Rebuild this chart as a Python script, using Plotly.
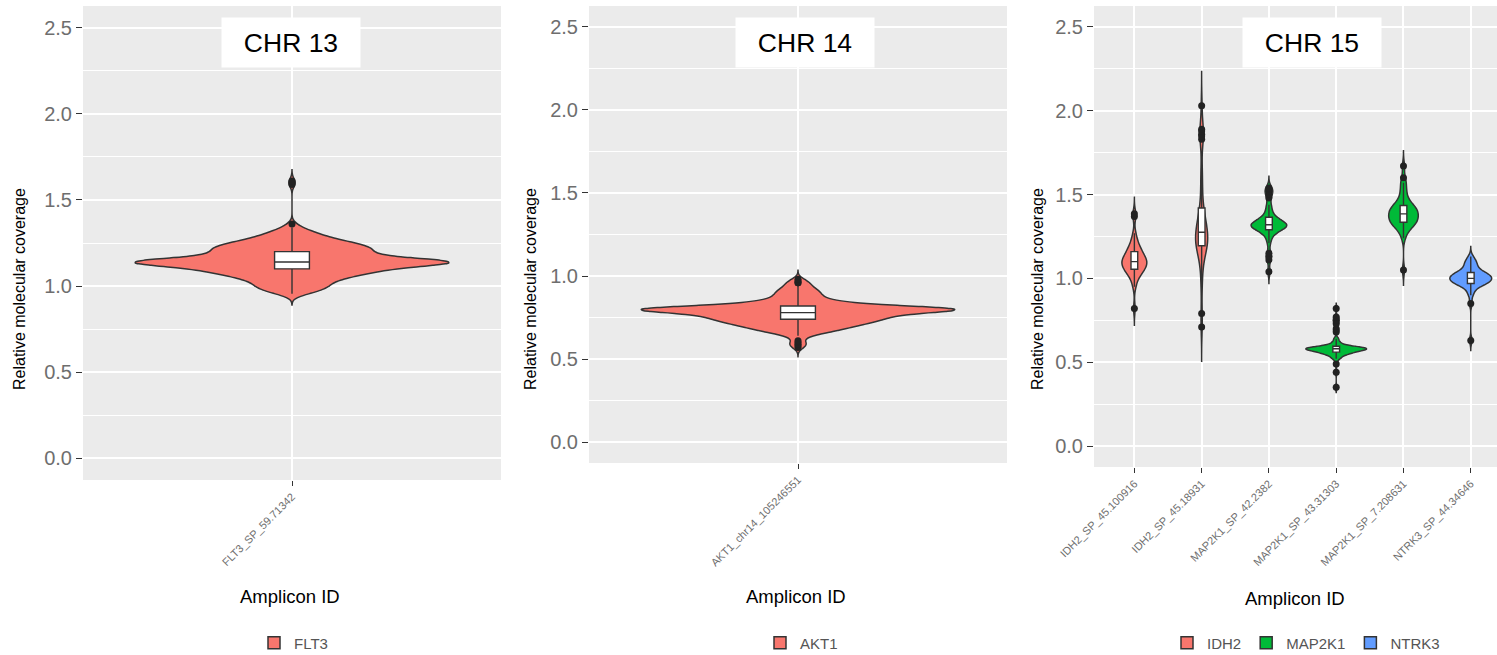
import numpy as np
import plotly.graph_objects as go

W, H = 1497, 655

# ---------------- data ----------------
# CHR 13 panel (values observed with their multiplicities)
flt3_label = "FLT3_SP_59.71342"
flt3_values = [0.955, 0.97, 0.98, 1.00, 1.02, 1.04, 1.06, 1.08, 1.10, 1.12, 1.14, 1.16,
               1.18, 1.20, 1.22, 1.24, 1.26, 1.28, 1.30, 1.32, 1.34, 1.36, 1.59, 1.61]
flt3_counts = [3, 3, 6, 8, 8, 10, 13, 18, 20, 24, 52, 20,
               16, 17, 17, 16, 11, 8, 6, 4, 2, 1, 1, 1]

# CHR 14 panel
akt1_label = "AKT1_chr14_105246551"
akt1_values = [0.57, 0.58, 0.59, 0.60, 0.61, 0.64, 0.66, 0.68, 0.70, 0.72, 0.74, 0.76,
               0.78, 0.80, 0.82, 0.84, 0.86, 0.88, 0.90, 0.92, 0.94, 0.96, 0.97, 0.98]
akt1_counts = [1, 1, 1, 1, 1, 3, 6, 10, 12, 16, 18, 20,
               22, 50, 18, 10, 6, 5, 5, 4, 3, 2, 1, 1]

# CHR 15 panel
chr15_labels = ["IDH2_SP_45.100916", "IDH2_SP_45.18931", "MAP2K1_SP_42.2382",
                "MAP2K1_SP_43.31303", "MAP2K1_SP_7.208631", "NTRK3_SP_44.34646"]
chr15_genes = ["IDH2", "IDH2", "MAP2K1", "MAP2K1", "MAP2K1", "NTRK3"]
idh2_45100916 = [0.82, 0.95, 0.98, 1.00, 1.02, 1.03, 1.04, 1.04, 1.05, 1.04, 1.06, 1.07,
                 1.08, 1.08, 1.08, 1.09, 1.09, 1.10, 1.10, 1.10, 1.11, 1.11, 1.12, 1.12,
                 1.13, 1.13, 1.14, 1.15, 1.16, 1.16, 1.17, 1.18, 1.19, 1.20, 1.22, 1.24,
                 1.27, 1.37, 1.385, 1.06]
idh2_4518931 = [0.71, 0.79, 0.95, 1.04, 1.09, 1.12, 1.15, 1.17, 1.18, 1.19, 1.20, 1.20,
                1.21, 1.21, 1.22, 1.23, 1.24, 1.25, 1.26, 1.27, 1.28, 1.29, 1.30, 1.31,
                1.32, 1.33, 1.35, 1.37, 1.39, 1.40, 1.44, 1.52, 1.58, 1.66, 1.83, 1.85,
                1.86, 1.88, 1.89, 2.03]
map2k1_422382 = [1.04, 1.11, 1.13, 1.15, 1.21, 1.24, 1.26, 1.27, 1.28, 1.29, 1.29, 1.30,
                 1.30, 1.30, 1.31, 1.31, 1.31, 1.31, 1.32, 1.32, 1.32, 1.32, 1.33, 1.33,
                 1.33, 1.34, 1.34, 1.35, 1.35, 1.36, 1.37, 1.38, 1.40, 1.42, 1.44, 1.48,
                 1.50, 1.52, 1.53, 1.54]
map2k1_4331303 = [0.35, 0.44, 0.49, 0.52, 0.53, 0.54, 0.55, 0.55, 0.55, 0.56, 0.56, 0.56,
                  0.57, 0.57, 0.57, 0.57, 0.57, 0.58, 0.58, 0.58, 0.58, 0.58, 0.58, 0.58,
                  0.59, 0.59, 0.59, 0.59, 0.59, 0.59, 0.60, 0.61, 0.62, 0.64, 0.68, 0.70,
                  0.73, 0.75, 0.77, 0.82]
map2k1_7208631 = [1.05, 1.24, 1.27, 1.29, 1.30, 1.31, 1.32, 1.32, 1.33, 1.33, 1.34, 1.34,
                  1.35, 1.35, 1.36, 1.36, 1.37, 1.37, 1.38, 1.38, 1.39, 1.39, 1.40, 1.40,
                  1.41, 1.41, 1.42, 1.42, 1.43, 1.43, 1.44, 1.45, 1.46, 1.48, 1.50, 1.52,
                  1.55, 1.57, 1.60, 1.67]
ntrk3_4434646 = [0.63, 0.85, 0.90, 0.92, 0.94, 0.95, 0.96, 0.96, 0.97, 0.97, 0.97, 0.98,
                 0.98, 0.98, 0.99, 0.99, 0.99, 1.00, 1.00, 1.00, 1.00, 1.01, 1.01, 1.01,
                 1.02, 1.02, 1.02, 1.03, 1.03, 1.03, 1.04, 1.04, 1.05, 1.06, 1.07, 1.08,
                 1.09, 1.10, 1.11, 1.13]
chr15_samples = [idh2_45100916, idh2_4518931, map2k1_422382,
                 map2k1_4331303, map2k1_7208631, ntrk3_4434646]

y_ticks = [0.0, 0.5, 1.0, 1.5, 2.0, 2.5]

# ---------------- style ----------------
gene_colors = {"FLT3": "#F8766D", "AKT1": "#F8766D", "IDH2": "#F8766D",
               "MAP2K1": "#00BA38", "NTRK3": "#619CFF"}
chr15_widths = [0.37, 0.18, 0.53, 0.90, 0.44, 0.62]
FONT = "Liberation Sans, Arial, Helvetica, sans-serif"
OUT = "#333333"
TICKCOL = "#6E6E6E"


def px_x(p):
    return p / W


def px_y(p):
    return 1 - p / H


def bw_nrd0(v):
    # R's default bandwidth rule (as used by ggplot2's geom_violin)
    v = np.asarray(v, dtype=float)
    q75, q25 = np.percentile(v, [75, 25])
    lo = min(v.std(ddof=1), (q75 - q25) / 1.34)
    return 0.9 * lo * len(v) ** -0.2


def make_violin(label, y, gene, xa, ya, width, legend, showlegend, group):
    y = np.asarray(y, dtype=float)
    bw = bw_nrd0(y)
    return go.Violin(
        x=[label] * len(y), y=y, xaxis=xa, yaxis=ya,
        name=gene, legendgroup=legend + gene, showlegend=showlegend, legend=legend,
        fillcolor=gene_colors[gene], line=dict(color=OUT, width=1.5),
        width=width, scalemode="width", scalegroup=group,
        bandwidth=bw, spanmode="manual", span=[y.min() - 3 * bw, y.max() + 3 * bw],
        points="outliers", pointpos=0, jitter=0,
        marker=dict(color="#222222", size=7, line=dict(width=0)),
        box=dict(visible=True, width=0.1 / width, fillcolor="white",
                 line=dict(color=OUT, width=1.4)),
        meanline=dict(visible=False), hoverinfo="skip", opacity=1,
    )


fig = go.Figure()
fig.add_trace(make_violin(flt3_label, np.repeat(flt3_values, flt3_counts), "FLT3",
                          "x", "y", 0.9, "legend", True, "g1"))
fig.add_trace(make_violin(akt1_label, np.repeat(akt1_values, akt1_counts), "AKT1",
                          "x2", "y2", 0.9, "legend2", True, "g2"))
seen = set()
for i, (lab, gene, ys, w) in enumerate(zip(chr15_labels, chr15_genes, chr15_samples, chr15_widths)):
    fig.add_trace(make_violin(lab, ys, gene, "x3", "y3", w, "legend3",
                              gene not in seen, "g3_%d" % i))
    seen.add(gene)

# panel pixel boxes: (left, right, top, bottom)
panels = [(83, 501, 6, 480), (589, 1007, 6, 463), (1094, 1497, 6, 467)]
x_ranges = [[-0.6, 0.6], [-0.6, 0.6], [-0.6, 5.39]]
cats = [[flt3_label], [akt1_label], chr15_labels]

layout = dict(
    width=W, height=H, margin=dict(l=0, r=0, t=0, b=0, autoexpand=False),
    paper_bgcolor="white", plot_bgcolor="#EBEBEB", violinmode="overlay",
    font=dict(family=FONT, color="#222222"), showlegend=True,
)
for k, ((l, r, t, b), xr, cat) in enumerate(zip(panels, x_ranges, cats)):
    sfx = "" if k == 0 else str(k + 1)
    layout["xaxis" + sfx] = dict(
        domain=[px_x(l), px_x(r)], anchor="y" + sfx, type="category",
        categoryorder="array", categoryarray=cat, range=xr, automargin=False,
        showgrid=True, gridcolor="white", gridwidth=1.6, zeroline=False, showline=False,
        ticks="outside", ticklen=5, tickwidth=1.2, tickcolor=OUT, tickangle=-45,
        tickfont=dict(size=11, color=TICKCOL, family=FONT), fixedrange=True,
    )
    layout["yaxis" + sfx] = dict(
        domain=[px_y(b), px_y(t)], anchor="x" + sfx, range=[-0.125, 2.625],
        automargin=False,
        tickmode="array", tickvals=y_ticks, ticktext=["%.1f" % v for v in y_ticks],
        showgrid=True, gridcolor="white", gridwidth=1.6, zeroline=False, showline=False,
        ticks="outside", ticklen=6, tickwidth=1.2, tickcolor=OUT,
        tickfont=dict(size=20, color=TICKCOL, family=FONT),
        minor=dict(tickvals=[0.25, 0.75, 1.25, 1.75, 2.25], showgrid=True,
                   gridcolor="white", gridwidth=0.8, ticks=""),
        fixedrange=True,
    )

leg_common = dict(orientation="h", xanchor="left", yanchor="middle",
                  y=px_y(643), bgcolor="rgba(0,0,0,0)", borderwidth=0,
                  font=dict(size=15, color="#555555", family=FONT), itemclick=False,
                  itemdoubleclick=False)
layout["legend"] = dict(x=px_x(254), **leg_common)
layout["legend2"] = dict(x=px_x(760), **leg_common)
layout["legend3"] = dict(x=px_x(1167), **leg_common)
fig.update_layout(**layout)

# titles
chr_titles = ["CHR 13", "CHR 14", "CHR 15"]
chr_centers = [291, 804.5, 1312]
for t, cx in zip(chr_titles, chr_centers):
    fig.add_annotation(text=t, x=px_x(cx), y=px_y(42.5), xref="paper", yref="paper",
                       xanchor="center", yanchor="middle", showarrow=False,
                       width=138, height=49, bgcolor="white", borderpad=0,
                       font=dict(size=26.5, color="black", family=FONT))
for cx in [19, 530, 1037]:
    fig.add_annotation(text="Relative molecular coverage", x=px_x(cx), y=px_y(289),
                       xref="paper", yref="paper", xanchor="center", yanchor="middle",
                       textangle=-90, showarrow=False,
                       font=dict(size=16, color="black", family=FONT))
for cx, cy in [(290, 596), (796, 596), (1295, 598)]:
    fig.add_annotation(text="Amplicon ID", x=px_x(cx), y=px_y(cy), xref="paper",
                       yref="paper", xanchor="center", yanchor="middle", showarrow=False,
                       font=dict(size=18.5, color="black", family=FONT))

fig.write_html("out.html")
